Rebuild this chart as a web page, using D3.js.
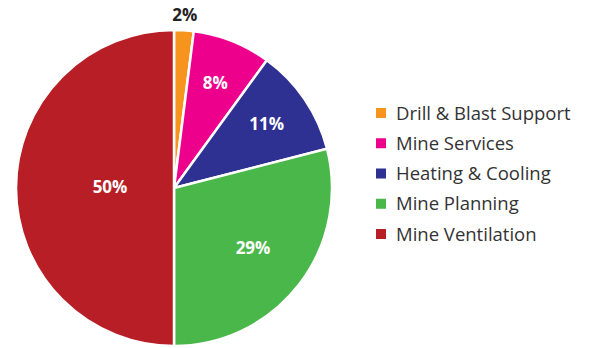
<!DOCTYPE html>
<html>
<head>
<meta charset="utf-8">
<script src="https://cdn.jsdelivr.net/npm/d3@7"></script>
<style>
  body { margin: 0; background: #fff; }
  svg { display: block; }
  text { font-family: "Open Sans", "Noto Sans", sans-serif; }
</style>
</head>
<body>
<div id="chart"></div>
<script>
// data
var categories = ["Drill & Blast Support", "Mine Services", "Heating & Cooling", "Mine Planning", "Mine Ventilation"];
var shares = [2, 8, 11, 29, 50];
var colours = ["#f7941d", "#ec008c", "#2e3192", "#4ab74a", "#b71e25"];

var width = 594, height = 348;
var cx = 174, cy = 188, radius = 158;

// label distance from centre, per slice (the small one sits outside)
var labelRadius = [172, 112, 112, 100, 64];

var svg = d3.select("#chart").append("svg")
    .attr("width", width)
    .attr("height", height);

var pie = d3.pie().sort(null).value(function(d) { return d; });
var arcs = pie(shares);

var arc = d3.arc().innerRadius(0).outerRadius(radius);

var g = svg.append("g").attr("transform", "translate(" + cx + "," + cy + ")");

g.selectAll("path.slice")
    .data(arcs)
    .enter().append("path")
    .attr("class", "slice")
    .attr("d", arc)
    .attr("fill", function(d, i) { return colours[i]; })
    .attr("stroke", "#fff")
    .attr("stroke-width", 2.5)
    .attr("stroke-linejoin", "round");

g.selectAll("text.pct")
    .data(arcs)
    .enter().append("text")
    .attr("class", "pct")
    .attr("transform", function(d, i) {
        var a = (d.startAngle + d.endAngle) / 2;
        var r = labelRadius[i];
        return "translate(" + (Math.sin(a) * r) + "," + (-Math.cos(a) * r) + ")";
    })
    .attr("text-anchor", "middle")
    .attr("dy", "0.3em")
    .style("font-size", "17px")
    .style("font-weight", "bold")
    .style("fill", function(d, i) { return i == 0 ? "#222" : "#fff"; })
    .text(function(d) { return d.data + "%"; });

// legend
var legendY = d3.scalePoint()
    .domain(categories)
    .range([113, 234]);

var legend = svg.selectAll(".legend")
    .data(categories)
    .enter().append("g")
    .attr("class", "legend")
    .attr("transform", function(d) { return "translate(376," + legendY(d) + ")"; });

legend.append("rect")
    .attr("x", 0)
    .attr("y", -5)
    .attr("width", 10)
    .attr("height", 10)
    .attr("fill", function(d, i) { return colours[i]; });

legend.append("text")
    .attr("x", 20)
    .attr("dy", "0.36em")
    .style("font-size", "18.5px")
    .style("fill", "#333")
    .text(function(d) { return d; });
</script>
</body>
</html>
